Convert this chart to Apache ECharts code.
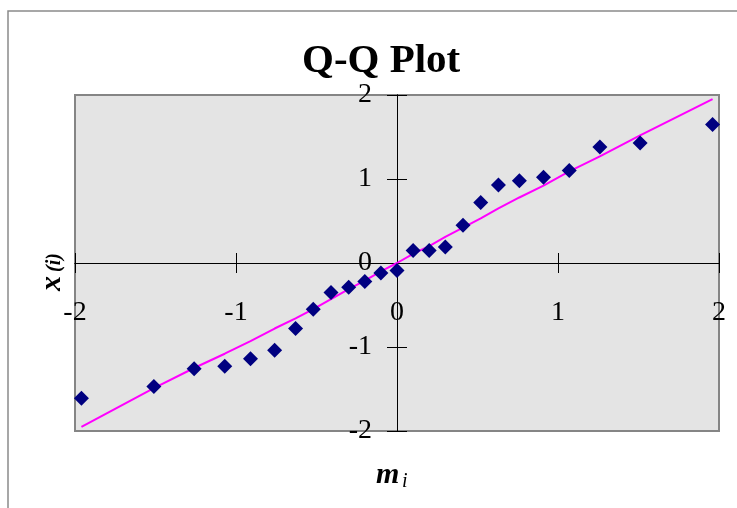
<!DOCTYPE html>
<html>
<head>
<meta charset="utf-8">
<script src="https://cdn.jsdelivr.net/npm/echarts@6/dist/echarts.min.js"></script>
<style>
  html, body { margin: 0; padding: 0; background: #ffffff; }
  #chart { width: 737px; height: 508px; }
</style>
</head>
<body>
<div id="chart"></div>
<script>
// Normal scores m_i, sorted observations x_(i), and the fitted reference line
const quantiles = [-1.96, -1.51, -1.26, -1.07, -0.91, -0.76, -0.63, -0.52, -0.41, -0.30, -0.20, -0.10, 0,
                   0.10, 0.20, 0.30, 0.41, 0.52, 0.63, 0.76, 0.91, 1.07, 1.26, 1.51, 1.96];
const observed = [-1.61, -1.47, -1.26, -1.23, -1.14, -1.04, -0.78, -0.55, -0.35, -0.29, -0.22, -0.12, -0.09,
                  0.15, 0.15, 0.19, 0.45, 0.72, 0.93, 0.98, 1.02, 1.10, 1.38, 1.43, 1.65];
const reference = [-1.95, -1.49, -1.25, -1.08, -0.93, -0.78, -0.66, -0.55, -0.43, -0.31, -0.21, -0.10, 0,
                   0.11, 0.20, 0.31, 0.42, 0.53, 0.65, 0.78, 0.92, 1.09, 1.27, 1.52, 1.95];
const axisMin = -2;
const axisMax = 2;
const axisStep = 1;

const serif = "'Liberation Serif', 'Times New Roman', serif";

const pointData = quantiles.map((m, i) => [m, observed[i]]);
const lineData = quantiles.map((m, i) => [m, reference[i]]);

const tickLabel = { show: true, fontFamily: serif, fontSize: 28, color: '#000' };
const lineStyle = { color: '#000', width: 1 };
const plotBox = { left: 75, top: 95, width: 644, height: 336 };

// The axes cross in the middle of the plot box: each one is pulled inwards
// from its edge by half the box size.
const xAxisShift = -plotBox.height / 2;
const yAxisShift = -plotBox.width / 2;

// Two overlaid grids share one plot box: the first carries the labelled axes
// with outward ticks, the second repeats the axes with inward ticks so the
// tick marks cross the axis lines.
function valueAxis(gridIndex, pos, shift, inside, margin) {
  return {
    type: 'value', gridIndex: gridIndex, position: pos, offset: shift,
    min: axisMin, max: axisMax, interval: axisStep,
    axisLine: { show: true, onZero: false, lineStyle: lineStyle },
    axisTick: { show: true, inside: inside, length: 10, lineStyle: lineStyle },
    axisLabel: margin != null ? Object.assign({ margin: margin }, tickLabel) : { show: false },
    splitLine: { show: false }
  };
}

const chart = echarts.init(document.getElementById('chart'), null, { renderer: 'canvas' });

chart.setOption({
  backgroundColor: '#ffffff',
  animation: false,
  title: {
    text: 'Q-Q Plot',
    left: 297,
    top: 36,
    textStyle: { fontFamily: serif, fontSize: 41, fontWeight: 'bold', color: '#000' }
  },
  grid: [
    Object.assign({
      show: true,
      backgroundColor: '#e4e4e4',
      borderColor: '#858585',
      borderWidth: 2
    }, plotBox),
    Object.assign({ show: false }, plotBox)
  ],
  xAxis: [
    valueAxis(0, 'bottom', xAxisShift, false, 36),
    valueAxis(1, 'bottom', xAxisShift, true, null)
  ],
  yAxis: [
    valueAxis(0, 'left', yAxisShift, false, 25),
    valueAxis(1, 'left', yAxisShift, true, null)
  ],
  graphic: [
    {
      type: 'rect', z: -10, silent: true,
      shape: { x: 8, y: 11, width: 800, height: 600 },
      style: { fill: 'none', stroke: '#8a8a8a', lineWidth: 1.5 }
    },
    {
      type: 'text', x: 376, y: 460, silent: true,
      style: { text: 'm', font: "italic bold 30px " + serif, fill: '#000' }
    },
    {
      type: 'text', x: 402, y: 472, silent: true,
      style: { text: 'i', font: "italic 20px " + serif, fill: '#000' }
    },
    {
      type: 'group', x: 37, y: 291, rotation: Math.PI / 2, silent: true,
      children: [
        { type: 'text', x: 0, y: 0, style: { text: 'x', font: "italic bold 30px " + serif, fill: '#000' } },
        { type: 'text', x: 19, y: 8, style: { text: '(i)', font: "italic bold 20px " + serif, fill: '#000' } }
      ]
    }
  ],
  series: [
    {
      type: 'line',
      xAxisIndex: 0, yAxisIndex: 0,
      data: lineData,
      showSymbol: false,
      symbol: 'none',
      lineStyle: { color: '#ff00ff', width: 2 },
      z: 2
    },
    {
      type: 'scatter',
      xAxisIndex: 0, yAxisIndex: 0,
      data: pointData,
      symbol: 'diamond',
      symbolSize: 15,
      itemStyle: { color: '#000080', opacity: 1 },
      z: 3
    }
  ]
});
</script>
</body>
</html>
